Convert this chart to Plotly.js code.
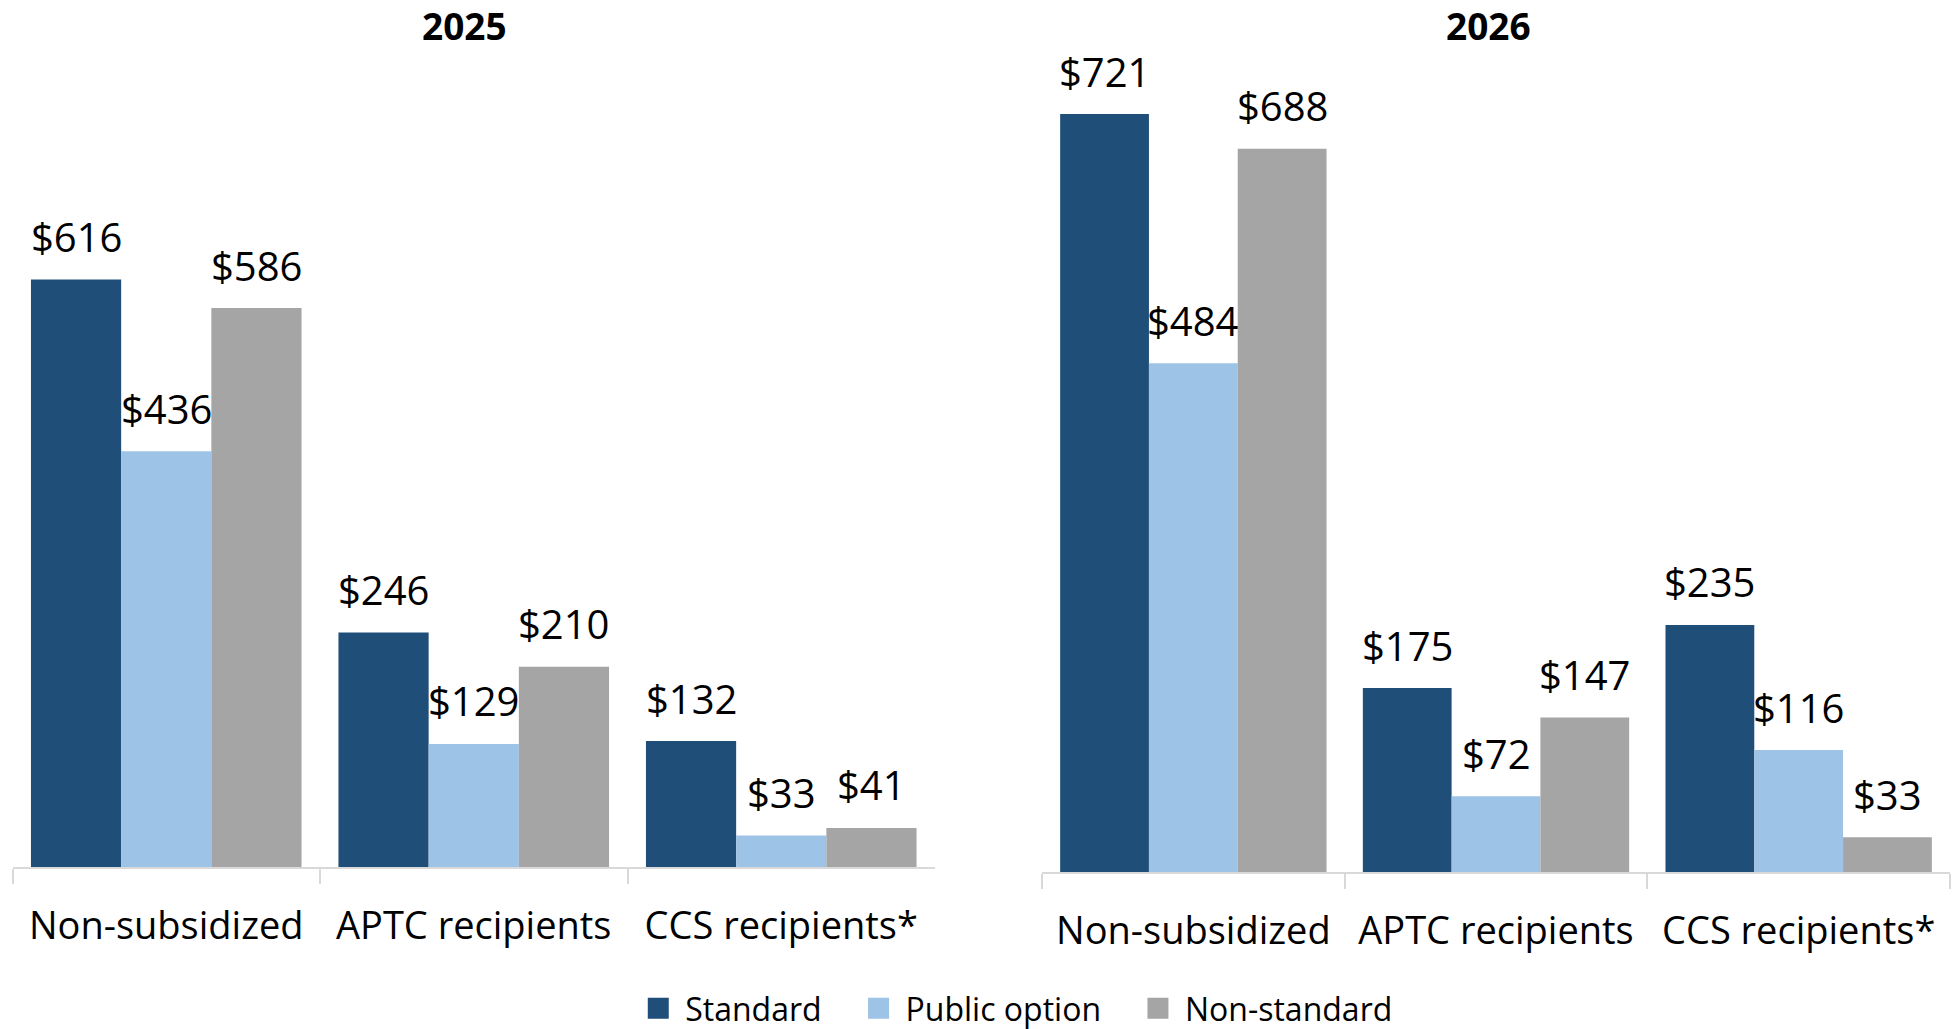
<!DOCTYPE html>
<html>
<head>
<meta charset="utf-8">
<script src="https://cdn.plot.ly/plotly-3.0.1.min.js"></script>
<style>html,body{margin:0;padding:0;background:#fff;}#chart{width:1959px;height:1029px;}</style>
</head>
<body>
<div id="chart"></div>
<script>
const categories = ["Non-subsidized", "APTC recipients", "CCS recipients*"];
const seriesNames = ["Standard", "Public option", "Non-standard"];
const panelTitles = ["2025", "2026"];
const standard2025 = [616, 246, 132];
const publicOption2025 = [436, 129, 33];
const nonStandard2025 = [586, 210, 41];
const standard2026 = [721, 175, 235];
const publicOption2026 = [484, 72, 116];
const nonStandard2026 = [688, 147, 33];

const colors = ["#1F4E79", "#9DC3E6", "#A5A5A5"];
const FONT = "Open Sans, DejaVu Sans, sans-serif";
const W = 1959, H = 1029;
const bargap = 0.12;
const NB = "\u00a0";

const panels = [
  {series: [standard2025, publicOption2025, nonStandard2025], xa: "x", ya: "y", xdom: [12.5 / W, 935 / W], ydom: [162 / H, 925 / H], titleX: 464 / W},
  {series: [standard2026, publicOption2026, nonStandard2026], xa: "x2", ya: "y2", xdom: [1042 / W, 1950 / W], ydom: [157 / H, 998 / H], titleX: 1488 / W}
];

const traces = [];
const annotations = [];
panels.forEach((p, pi) => {
  const catW = (p.xdom[1] - p.xdom[0]) * W / categories.length;
  const barW = catW * (1 - bargap) / 3;
  p.series.forEach((vals, si) => {
    traces.push({
      type: "bar",
      x: categories,
      y: vals,
      name: seriesNames[si],
      marker: {color: colors[si]},
      xaxis: p.xa,
      yaxis: p.ya,
      showlegend: false,
      legendgroup: seriesNames[si],
      hoverinfo: "skip"
    });
    vals.forEach((v, ci) => {
      annotations.push({
        x: categories[ci], y: v, xref: p.xa, yref: p.ya,
        text: "$" + v, showarrow: false,
        xshift: (si - 1) * barW, yshift: 43,
        xanchor: "center", yanchor: "middle",
        font: {family: FONT, size: 40, color: "#000"}
      });
    });
  });
  annotations.push({
    x: p.titleX, y: (H - 25) / H, xref: "paper", yref: "paper",
    text: "<b>" + panelTitles[pi] + "</b>", showarrow: false,
    xanchor: "center", yanchor: "middle",
    font: {family: FONT, size: 37, color: "#000"}
  });
});

// legend-only entries (square swatches), no data points
seriesNames.forEach((nm, si) => {
  traces.push({
    type: "scatter", mode: "markers",
    x: [null], y: [null],
    name: nm + (si < 2 ? NB + NB + NB : ""),
    legendgroup: nm,
    marker: {symbol: "square", size: 16, color: colors[si], line: {color: colors[si], width: 5}},
    showlegend: true, hoverinfo: "skip"
  });
});

const xaxisBase = {
  type: "category",
  showline: true, linecolor: "#d9d9d9", linewidth: 2,
  ticks: "outside", tickson: "boundaries", ticklen: 15, tickwidth: 2, tickcolor: "#d9d9d9",
  ticklabelstandoff: 24,
  tickfont: {family: FONT, size: 38, color: "#000"},
  showgrid: false, zeroline: false, fixedrange: true, automargin: false
};
const yaxisBase = {
  range: [0, 800], visible: false, showgrid: false, zeroline: false, fixedrange: true
};

const layout = {
  width: W, height: H,
  margin: {l: 0, r: 0, t: 0, b: 0, autoexpand: false},
  paper_bgcolor: "#fff", plot_bgcolor: "#fff",
  barmode: "group", bargap: bargap, bargroupgap: 0,
  font: {family: FONT, color: "#000"},
  xaxis: Object.assign({}, xaxisBase, {domain: panels[0].xdom, anchor: "y"}),
  yaxis: Object.assign({}, yaxisBase, {domain: panels[0].ydom, anchor: "x"}),
  xaxis2: Object.assign({}, xaxisBase, {domain: panels[1].xdom, anchor: "y2"}),
  yaxis2: Object.assign({}, yaxisBase, {domain: panels[1].ydom, anchor: "x2"}),
  legend: {
    orientation: "h", x: 0.518, xanchor: "center", y: -7 / H, yanchor: "bottom",
    font: {family: FONT, size: 32, color: "#000"}, itemwidth: 44, itemsizing: "trace", traceorder: "normal"
  },
  annotations: annotations
};

Plotly.newPlot("chart", traces, layout, {displayModeBar: false, staticPlot: true});
</script>
</body>
</html>
